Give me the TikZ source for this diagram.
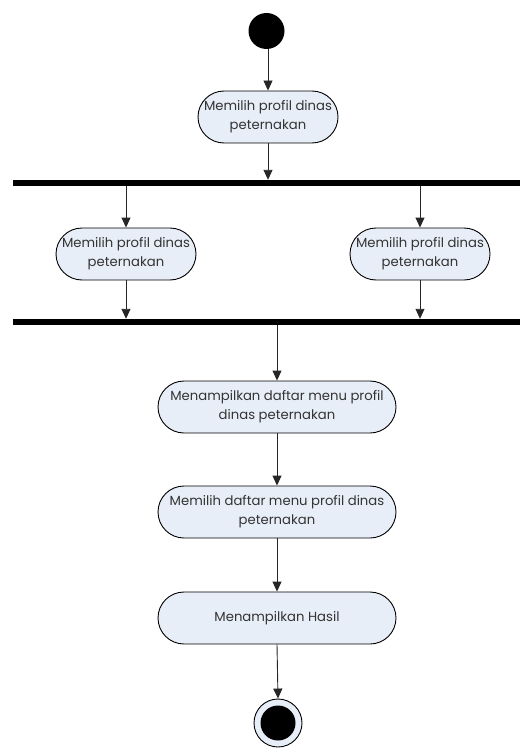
\documentclass[tikz,border=0pt]{standalone}
\usepackage{fontspec}
\setmainfont{Poppins}
\usetikzlibrary{shapes.misc,arrows.meta}
\definecolor{actfill}{HTML}{E8EEF8}
\definecolor{acttext}{HTML}{333333}
\tikzset{
  act/.style={rounded rectangle, draw=black, line width=0.9pt, fill=actfill,
    text=acttext, align=center, font=\fontsize{13.2}{19}\selectfont,
    minimum height=52pt, inner sep=1pt},
  smallact/.style={act, minimum width=142pt},
  wideact/.style={act, minimum width=240pt},
  forkbar/.style={rectangle, fill=black, inner sep=0pt, minimum width=507pt, minimum height=6pt},
  flow/.style={draw=black!85, line width=0.9pt, -{Triangle[length=10pt,width=9pt]}},
}
\begin{document}
\begin{tikzpicture}[x=1pt,y=-1pt]
\useasboundingbox (0,0) rectangle (520,749);
% initial state
\node[circle, fill=black, minimum size=36pt, inner sep=0pt] (start) at (266.5,31) {};
% first action and fork
\node[smallact] (a1) at (268,117) {Memilih profil dinas\\peternakan};
\node[forkbar] (fork) at (266.5,183) {};
\node[smallact] (left) at (126,254) {Memilih profil dinas\\peternakan};
\node[smallact] (right) at (420,254) {Memilih profil dinas\\peternakan};
\node[forkbar] (join) at (266.5,322) {};
% sequential actions
\node[wideact] (a3) at (277,407) {Menampilkan daftar menu profil\\dinas peternakan};
\node[wideact] (a4) at (277,512) {Memilih daftar menu profil dinas\\peternakan};
\node[wideact] (a5) at (277,618) {Menampilkan Hasil};
% final state
\node[circle, draw=black, line width=0.9pt, fill=actfill, minimum size=48pt, inner sep=0pt] (stop) at (278,723) {};
\node[circle, fill=black, minimum size=35pt, inner sep=0pt] (stopdot) at (stop.center) {};
% control flow
\draw[flow] (start.south -| a1.north) -- (a1.north);
\draw[flow] (a1.south) -- (a1.south |- fork.north);
\draw[flow] (left.north |- fork.south) -- (left.north);
\draw[flow] (right.north |- fork.south) -- (right.north);
\draw[flow] (left.south) -- (left.south |- join.north);
\draw[flow] (right.south) -- (right.south |- join.north);
\draw[flow] (a3.north |- join.south) -- (a3.north);
\draw[flow] (a3.south) -- (a4.north);
\draw[flow] (a4.south) -- (a5.north);
\draw[flow] (a5.south) -- (stop.north);
\end{tikzpicture}
\end{document}
